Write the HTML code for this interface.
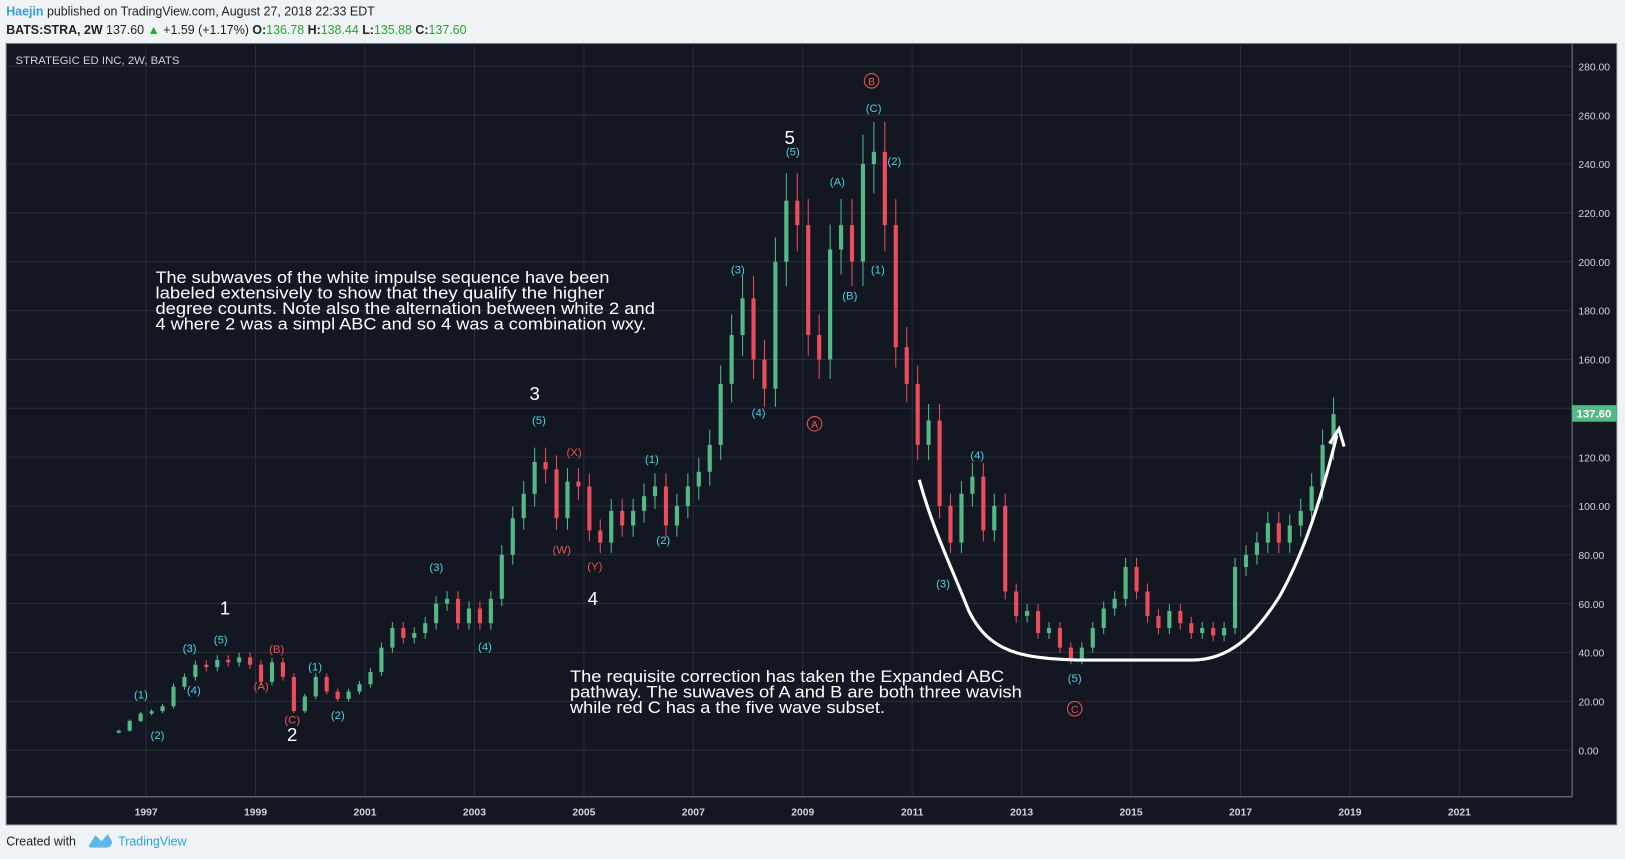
<!DOCTYPE html>
<html><head><meta charset="utf-8"><style>
html,body{margin:0;padding:0;background:#f0f3f6;}
svg{display:block;}
text{font-family:"Liberation Sans",sans-serif;}
</style></head><body>
<svg id="chart" width="1625" height="859" viewBox="0 0 1568 829" preserveAspectRatio="none" xmlns="http://www.w3.org/2000/svg">
<rect x="0" y="0" width="1568" height="829" fill="#f0f3f6"/>
<text x="6" y="15" font-size="12" fill="#222"><tspan fill="#2e9fe0" font-weight="bold">Haejin</tspan> published on TradingView.com, August 27, 2018 22:33 EDT</text>
<text x="6" y="33" font-size="12" fill="#222"><tspan font-weight="bold">BATS:STRA, 2W</tspan> 137.60 <tspan fill="#26a634">▲</tspan> +1.59 (+1.17%) <tspan font-weight="bold">O:</tspan><tspan fill="#26a634">136.78</tspan> <tspan font-weight="bold">H:</tspan><tspan fill="#26a634">138.44</tspan> <tspan font-weight="bold">L:</tspan><tspan fill="#26a634">135.88</tspan> <tspan font-weight="bold">C:</tspan><tspan fill="#26a634">137.60</tspan></text>
<rect x="6" y="42" width="1554" height="754" fill="#131722" stroke="#787b86" stroke-width="1"/>
<g id="grid"></g>
<line x1="1517" y1="42" x2="1517" y2="769" stroke="#787b86"/>
<line x1="6" y1="769" x2="1517" y2="769" stroke="#787b86"/>
<g id="candles"></g>
<g id="labels"></g>
<text x="15" y="62" font-size="11" fill="#d1d4dc">STRATEGIC ED INC, 2W, BATS</text>
<g font-size="16" fill="#ffffff" lengthAdjust="spacingAndGlyphs">
<text x="150" y="273" textLength="438" lengthAdjust="spacingAndGlyphs">The subwaves of the white impulse sequence have been</text>
<text x="150" y="288" textLength="433" lengthAdjust="spacingAndGlyphs">labeled extensively to show that they qualify the higher</text>
<text x="150" y="303" textLength="482" lengthAdjust="spacingAndGlyphs">degree counts. Note also the alternation between white 2 and</text>
<text x="150" y="318" textLength="474" lengthAdjust="spacingAndGlyphs">4 where 2 was a simpl ABC and so 4 was a combination wxy.</text>
</g>
<g font-size="16" fill="#ffffff">
<text x="550" y="658" textLength="419" lengthAdjust="spacingAndGlyphs">The requisite correction has taken the  Expanded ABC</text>
<text x="550" y="673" textLength="436" lengthAdjust="spacingAndGlyphs">pathway. The suwaves of A and B are both three wavish</text>
<text x="550" y="688" textLength="304" lengthAdjust="spacingAndGlyphs">while red C has a the five wave subset.</text>
</g>
<path d="M887,463 C900,510 915,540 935,590 C955,630 985,635 1040,637 L1150,637 C1185,637 1210,615 1235,575 C1260,530 1275,480 1290,420" fill="none" stroke="#ffffff" stroke-width="3"/>
<path d="M1283,428 L1292,414 L1297,431" fill="none" stroke="#ffffff" stroke-width="3"/>
<rect x="1517" y="391" width="43" height="16" fill="#53b987"/>
<text x="1538" y="403" font-size="11" fill="#ffffff" text-anchor="middle" font-weight="bold">137.60</text>
<text x="6" y="816" font-size="12" fill="#222">Created with</text>
<path d="M86,816 L92,806 L98,812 L104,805 L108,812 Q108,818 102,818 L90,818 Q84,818 86,816Z" fill="#5cb8e6"/>
<text x="114" y="816" font-size="12" fill="#2e9fe0">TradingView</text>
</svg>
<script>
const priceTicks = [0,20,40,60,80,100,120,140,160,180,200,220,240,260,280];
const yearTicks = [1997,1999,2001,2003,2005,2007,2009,2011,2013,2015,2017,2019,2021];
const startYear = 1996.5;
const stepYears = 0.2;
const closes = [8,12,15,16,18,26,30,35,34,37,36,38,35,28,36,30,16,22,30,24,21,24,27,32,42,50,46,48,52,60,62,52,58,52,62,80,95,105,118,115,95,110,108,90,85,98,92,98,104,108,92,100,108,114,125,150,170,185,160,148,200,225,215,170,160,205,215,200,240,245,215,165,150,125,135,100,85,105,112,90,100,65,55,57,48,50,42,37,42,50,58,62,75,65,55,50,57,52,48,50,47,50,75,80,85,93,85,92,98,108,125,137.6];
const cyanLabels = [["(1)",136,670],["(2)",152,709],["(3)",183,625],["(4)",187,666],["(5)",213,617],["(1)",304,643],["(2)",326,690],["(3)",421,547],["(4)",468,624],["(5)",520,405],["(1)",629,443],["(2)",640,521],["(3)",712,260],["(4)",732,398],["(5)",765,146],["(A)",808,175],["(B)",820,285],["(C)",843,104],["(1)",847,260],["(2)",863,155],["(3)",910,563],["(4)",943,439],["(5)",1037,654]];
const redLabels = [["(A)",252,662],["(B)",267,626],["(C)",282,694],["(X)",554,436],["(W)",542,530],["(Y)",574,546]];
const circleLabels = [["B",841,78],["A",786,409],["C",1037,684]];
const waveLabels = [["1",217,587],["2",282,709],["3",516,380],["4",572,578],["5",762,133]];

const NS = "http://www.w3.org/2000/svg";
function xScale(yr){ return 141 + (yr - 1997) * 52.8; }
function yScale(p){ return 724 - p * 2.357; }
function mk(tag, attrs, parent){
  const e = document.createElementNS(NS, tag);
  for (const k in attrs) e.setAttribute(k, attrs[k]);
  parent.appendChild(e);
  return e;
}
const grid = document.getElementById('grid');
priceTicks.forEach(p => {
  const y = yScale(p);
  const l = mk('line', {x1:6, x2:1517, y1:y, y2:y, stroke:'#2a2e39'}, grid);
  
  
  const t = mk('text', {x:1523, y:y+4, 'font-size':10, fill:'#d1d4dc'}, grid);
  t.textContent = p.toFixed(2);
  
  
});
yearTicks.forEach(yr => {
  const x = xScale(yr);
  const l = mk('line', {x1:x, x2:x, y1:42, y2:769, stroke:'#2a2e39'}, grid);
  
  
  const t = mk('text', {x:x, y:787, 'font-size':10, fill:'#d1d4dc', 'text-anchor':'middle', 'font-weight':'bold'}, grid);
  t.textContent = String(yr);
  
  
});
const cg = document.getElementById('candles');
closes.forEach((c, i) => {
  const o = i === 0 ? c * 0.9 : closes[i-1];
  const x = xScale(startYear + i * stepYears);
  const up = c >= o;
  const col = up ? '#53b987' : '#eb4d5c';
  const hi = Math.max(o, c) * 1.05, lo = Math.min(o, c) * 0.95;
  const w = mk('line', {x1:x, x2:x, y1:yScale(hi), y2:yScale(lo), stroke:col, 'stroke-width':1}, cg);
  
  
  const top = yScale(Math.max(o, c)), bot = yScale(Math.min(o, c));
  const r = mk('rect', {x:x-2, y:top, width:4, height:Math.max(1, bot-top), fill:col}, cg);
  
  
});
const lg = document.getElementById('labels');
cyanLabels.forEach(([s,x,y]) => {
  const t = mk('text', {x:x, y:y+4, 'font-size':11, fill:'#4dd0e1', 'text-anchor':'middle'}, lg);
  t.textContent = s;
  
  
});
redLabels.forEach(([s,x,y]) => {
  const t = mk('text', {x:x, y:y+4, 'font-size':11, fill:'#ef5350', 'text-anchor':'middle'}, lg);
  t.textContent = s;
  
  
});
circleLabels.forEach(([s,x,y]) => {
  const c = mk('circle', {cx:x, cy:y, r:7, fill:'none', stroke:'#ef5350', 'stroke-width':1}, lg);
  
  
  const t = mk('text', {x:x, y:y+4, 'font-size':10, fill:'#ef5350', 'text-anchor':'middle'}, lg);
  t.textContent = s;
  
  
});
waveLabels.forEach(([s,x,y]) => {
  const t = mk('text', {x:x, y:y+6, 'font-size':18, fill:'#ffffff', 'text-anchor':'middle'}, lg);
  t.textContent = s;
  
  
});
</script>
</body></html>
